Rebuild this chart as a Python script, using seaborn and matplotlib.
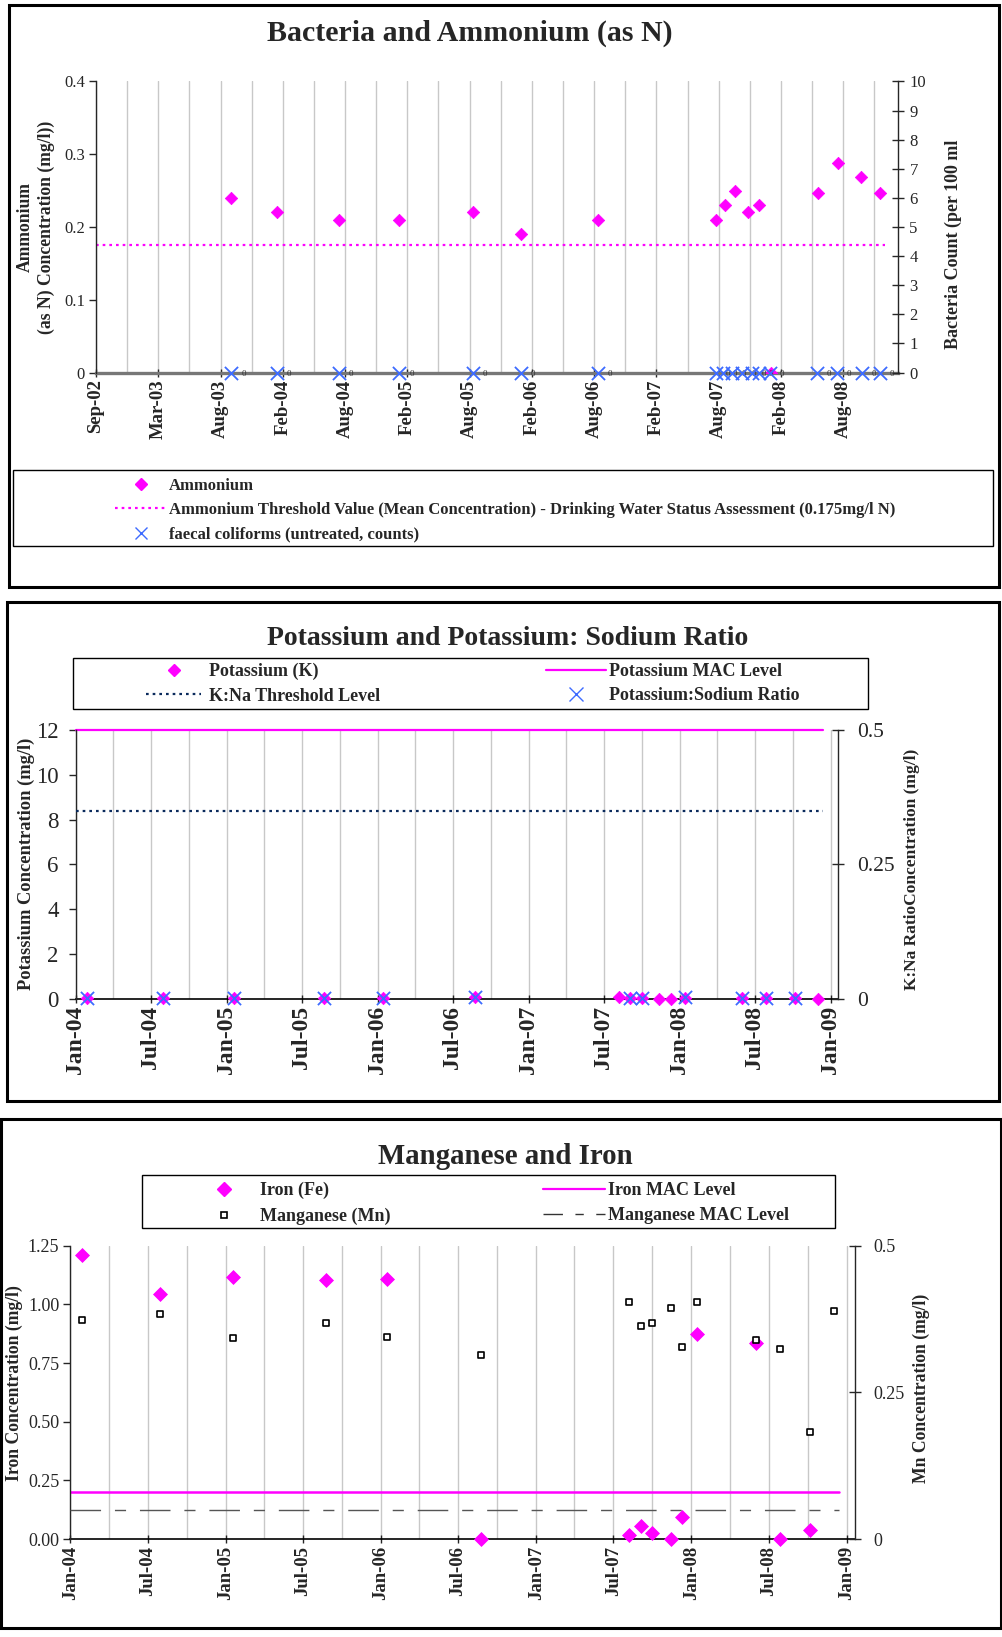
# Water quality charts: Bacteria/Ammonium, Potassium/K:Na, Manganese/Iron
import seaborn as sns
import pandas as pd
import matplotlib.pyplot as plt
import matplotlib.dates as mdates
from matplotlib.lines import Line2D
from matplotlib.patches import Rectangle
from matplotlib.ticker import FixedLocator, FuncFormatter

# ---- data: panel 1 ----
ammonium_dates = ['2003-10-02', '2004-02-11', '2004-08-12', '2005-02-03', '2005-09-07',
                  '2006-01-25', '2006-09-07', '2007-08-18', '2007-09-14', '2007-10-12',
                  '2007-11-21', '2007-12-23', '2008-01-26', '2008-06-11', '2008-08-08',
                  '2008-10-15', '2008-12-09']
ammonium = [0.24, 0.22, 0.21, 0.21, 0.22, 0.19, 0.21, 0.21, 0.23, 0.25, 0.22, 0.23, 0.0,
            0.247, 0.288, 0.269, 0.247]
bacteria_dates = ['2003-10-02', '2004-02-11', '2004-08-12', '2005-02-04', '2005-09-08',
                  '2006-01-25', '2006-09-08', '2007-08-17', '2007-09-08', '2007-10-03',
                  '2007-11-01', '2007-12-02', '2007-12-23', '2008-01-23', '2008-06-07',
                  '2008-08-05', '2008-10-17', '2008-12-09']
faecal = [0] * 18
nh4_threshold_dates = ['2002-09-01', '2008-12-24']
nh4_threshold = [0.175, 0.175]

# ---- data: panels 2 and 3 (shared sampling dates) ----
sample_dates = ['2004-01-28', '2004-07-30', '2005-01-18', '2005-08-25', '2006-01-14',
                '2006-08-25', '2007-08-08', '2007-09-04', '2007-10-01', '2007-11-13',
                '2007-12-11', '2008-01-15', '2008-06-01', '2008-07-28', '2008-10-07',
                '2008-12-01']
potassium = [0.03, 0.03, 0.03, 0.03, 0.03, 0.08, 0.1, 0.03, 0.03, 0.02, 0.02, 0.06,
             0.03, 0.03, 0.03, 0.02]
kna_ratio = [0.001, 0.001, 0.001, 0.001, 0.001, 0.004, None, 0.001, 0.001, None, None,
             0.003, 0.001, 0.001, 0.001, None]
mac_dates = ['2004-01-01', '2008-12-13']
k_mac = [12, 12]
kna_threshold = [0.35, 0.35]

iron = [1.211, 1.046, 1.117, 1.102, 1.109, 0.0, 0.017, 0.057, 0.026, 0.0, 0.095, 0.873,
        0.834, 0.0, 0.039, None]
manganese = [0.373, 0.383, 0.343, 0.368, 0.345, 0.314, 0.404, 0.363, 0.368, 0.394, 0.327,
             0.404, 0.340, 0.324, 0.183, 0.389]
fe_mac = [0.2, 0.2]
mn_mac = [0.05, 0.05]

MAGENTA = '#FF00FF'
BLUE = '#3D6BFF'
NAVY = '#0A2A5C'
GRID = '#C8C8C8'

sns.set_style("white")
plt.rcParams['font.family'] = ['Liberation Serif', 'DejaVu Serif']
plt.rcParams['axes.linewidth'] = 1.0

W, H = 1002, 1637
fig = plt.figure(figsize=(W / 100, H / 100), dpi=100)


def px_axes(left, top, right, bottom):
    return fig.add_axes([left / W, 1 - bottom / H, (right - left) / W, (bottom - top) / H])


def frame(left, top, right, bottom, lw=2.2):
    fig.patches.append(Rectangle((left / W, 1 - bottom / H), (right - left) / W,
                                 (bottom - top) / H, transform=fig.transFigure,
                                 fill=False, ec='black', lw=lw, zorder=0))


def legend_at(handles, labels, x, y, size, hl, pad, spacing):
    fig.legend(handles, labels, loc='upper left', bbox_to_anchor=(x / W, 1 - y / H),
               frameon=False, borderpad=0, borderaxespad=0, handlelength=hl,
               handletextpad=pad, labelspacing=spacing,
               prop={'weight': 'bold', 'size': size})


def style_axes(ax, ax2, spine_color='black', spine_lw=1.2):
    ax.spines['top'].set_visible(False)
    ax2.spines['top'].set_visible(False)
    ax.spines['right'].set_visible(False)
    ax2.spines['left'].set_visible(False)
    ax2.spines['bottom'].set_visible(False)
    ax.spines['bottom'].set_color(spine_color)
    ax.spines['bottom'].set_linewidth(spine_lw)
    ax.spines['bottom'].set_zorder(1)
    ax.grid(axis='x', which='both', color=GRID, lw=1.0)
    ax.grid(axis='y', visible=False)
    ax2.grid(False)
    ax.set_axisbelow(True)
    ax.tick_params(axis='y', left=True, direction='out', length=5, width=1, pad=3)
    ax.tick_params(axis='x', which='major', bottom=True, direction='inout', length=6, width=1)
    ax.tick_params(axis='x', which='minor', bottom=False)
    ax2.tick_params(axis='y', right=True, direction='inout', length=9, width=1, pad=6)


def bold_xticks(ax, size):
    ax.tick_params(axis='x', labelsize=size, rotation=90, pad=2)
    for t in ax.get_xticklabels():
        t.set_fontweight('bold')
    ax.set_xlabel('')


fmt_g = FuncFormatter(lambda v, p: f'{v:g}')

# ================= Panel 1 =================
frame(9, 5, 999, 587)
fig.text(470 / W, 1 - 33 / H, 'Bacteria and Ammonium (as N)', ha='center', va='center',
         fontsize=21.5, fontweight='bold')

ax1 = px_axes(96, 81.4, 897.6, 372.6)
ax1b = ax1.twinx()
df_nh4 = pd.DataFrame({'date': pd.to_datetime(ammonium_dates), 'value': ammonium})
df_bac = pd.DataFrame({'date': pd.to_datetime(bacteria_dates), 'value': faecal})
df_thr = pd.DataFrame({'date': pd.to_datetime(nh4_threshold_dates), 'value': nh4_threshold})

sns.lineplot(data=df_thr, x='date', y='value', ax=ax1, color=MAGENTA, lw=1.6,
             linestyle=(0, (1.2, 1.8)), legend=False)
sns.scatterplot(data=df_nh4, x='date', y='value', ax=ax1, marker='D', s=40, color=MAGENTA,
                edgecolor=MAGENTA, legend=False, zorder=3)
sns.scatterplot(data=df_bac, x='date', y='value', ax=ax1b, marker='x', s=90, color=BLUE,
                linewidth=1.3, legend=False, zorder=4, clip_on=False)
for d, v in zip(df_bac['date'], df_bac['value']):
    ax1b.annotate(f'{v:g}', (d, v), xytext=(7, -1), textcoords='offset points',
                  fontsize=6.5, va='center', ha='left', color='#333333')

start1 = pd.Timestamp('2002-09-01')
ax1.set_xlim(start1, pd.Timestamp('2009-01-30'))
ax1.set_ylim(0, 0.4)
ax1b.set_ylim(0, 10)
ax1.xaxis.set_major_locator(FixedLocator(mdates.date2num(pd.date_range(start1, periods=13, freq='182D'))))
ax1.xaxis.set_minor_locator(FixedLocator(mdates.date2num(pd.date_range(start1, periods=26, freq='91D'))))
ax1.xaxis.set_major_formatter(mdates.DateFormatter('%b-%y'))
ax1.set_yticks([0, 0.1, 0.2, 0.3, 0.4])
ax1.yaxis.set_major_formatter(fmt_g)
ax1b.set_yticks(range(0, 11))
style_axes(ax1, ax1b, spine_color='#777777', spine_lw=2.4)
ax1.tick_params(axis='y', labelsize=12)
ax1b.tick_params(axis='y', labelsize=12, pad=4)
bold_xticks(ax1, 13.5)
ax1.set_ylabel('Ammonium\n(as N) Concentration (mg/l))', fontsize=12.7, fontweight='bold',
               linespacing=1.25, multialignment='center', va='center')
ax1.yaxis.set_label_coords(-0.075, 0.5)
ax1b.set_ylabel('Bacteria Count (per 100 ml', fontsize=13, fontweight='bold', va='center')
ax1b.yaxis.set_label_coords(1.069, 0.44)

frame(12.5, 470, 993, 546, lw=1.0)
h1 = [Line2D([], [], marker='D', ms=6, color=MAGENTA, ls='none'),
      Line2D([], [], color=MAGENTA, lw=1.6, ls=(0, (1.2, 1.8))),
      Line2D([], [], marker='x', ms=9, mew=1.0, color=BLUE, ls='none')]
legend_at(h1, ['Ammonium',
               'Ammonium Threshold Value (Mean Concentration) - Drinking Water Status Assessment (0.175mg/l N)',
               'faecal coliforms (untreated, counts)'],
          115, 478, 12, 3.1, 0.12, 0.5)

# ================= Panel 2 =================
frame(7, 602, 999, 1101)
fig.text(508 / W, 1 - 639 / H, 'Potassium and Potassium: Sodium Ratio', ha='center',
         va='center', fontsize=20, fontweight='bold')

ax2 = px_axes(75.5, 730, 838, 999)
ax2b = ax2.twinx()
dates23 = pd.to_datetime(sample_dates)
df_k = pd.DataFrame({'date': dates23, 'value': potassium})
df_r = pd.DataFrame({'date': dates23, 'value': kna_ratio}).dropna()
df_kmac = pd.DataFrame({'date': pd.to_datetime(mac_dates), 'value': k_mac})
df_knat = pd.DataFrame({'date': pd.to_datetime(mac_dates), 'value': kna_threshold})

sns.lineplot(data=df_kmac, x='date', y='value', ax=ax2, color=MAGENTA, lw=1.6,
             legend=False, clip_on=False)
sns.lineplot(data=df_knat, x='date', y='value', ax=ax2b, color=NAVY, lw=1.6,
             linestyle=(0, (1.2, 1.8)), legend=False)
sns.scatterplot(data=df_k, x='date', y='value', ax=ax2, marker='D', s=40, color=MAGENTA,
                edgecolor=MAGENTA, legend=False, zorder=3, clip_on=False)
sns.scatterplot(data=df_r, x='date', y='value', ax=ax2b, marker='x', s=90, color=BLUE,
                linewidth=1.3, legend=False, zorder=4, clip_on=False)

ax2.set_xlim(pd.Timestamp('2004-01-01'), pd.Timestamp('2009-01-18'))
ax2.set_ylim(0, 12)
ax2b.set_ylim(0, 0.5)
ax2.xaxis.set_major_locator(mdates.MonthLocator(bymonth=[1, 7]))
ax2.xaxis.set_minor_locator(mdates.MonthLocator(bymonth=[1, 4, 7, 10]))
ax2.xaxis.set_major_formatter(mdates.DateFormatter('%b-%y'))
ax2.set_yticks(range(0, 13, 2))
ax2b.set_yticks([0, 0.25, 0.5])
ax2b.yaxis.set_major_formatter(fmt_g)
style_axes(ax2, ax2b)
ax2.tick_params(axis='y', labelsize=16.5, pad=7)
ax2b.tick_params(axis='y', labelsize=15.5, pad=9)
bold_xticks(ax2, 17)
ax2.set_ylabel('Potassium Concentration (mg/l)', fontsize=13.3, fontweight='bold', va='center')
ax2.yaxis.set_label_coords(-0.065, 0.503)
ax2b.set_ylabel('K:Na RatioConcentration (mg/l)', fontsize=12.5, fontweight='bold', va='center')
ax2b.yaxis.set_label_coords(1.097, 0.483)

frame(73, 657.5, 868, 708.5, lw=1.0)
legend_at([Line2D([], [], marker='D', ms=6, color=MAGENTA, ls='none'),
           Line2D([], [], color=NAVY, lw=1.6, ls=(0, (1.2, 1.8)))],
          ['Potassium (K)', 'K:Na Threshold Level'], 146, 663, 13, 3.05, 0.45, 0.4)
legend_at([Line2D([], [], color=MAGENTA, lw=1.6),
           Line2D([], [], marker='x', ms=10, mew=1.0, color=BLUE, ls='none')],
          ['Potassium MAC Level', 'Potassium:Sodium Ratio'], 546, 663, 13, 3.3, 0.2, 0.4)

# ================= Panel 3 =================
frame(1, 1119, 1001, 1628)
fig.text(505 / W, 1 - 1156 / H, 'Manganese and Iron', ha='center', va='center',
         fontsize=20.8, fontweight='bold')

ax3 = px_axes(70.4, 1245.7, 855, 1539)
ax3b = ax3.twinx()
df_fe = pd.DataFrame({'date': dates23, 'value': iron}).dropna()
df_mn = pd.DataFrame({'date': dates23, 'value': manganese})
df_femac = pd.DataFrame({'date': pd.to_datetime(mac_dates), 'value': fe_mac})
df_mnmac = pd.DataFrame({'date': pd.to_datetime(mac_dates), 'value': mn_mac})

sns.lineplot(data=df_femac, x='date', y='value', ax=ax3, color=MAGENTA, lw=1.8,
             legend=False)
sns.lineplot(data=df_mnmac, x='date', y='value', ax=ax3b, color='#555555', lw=1.0,
             linestyle=(0, (22, 10, 8, 10)), legend=False)
sns.scatterplot(data=df_fe, x='date', y='value', ax=ax3, marker='D', s=50, color=MAGENTA,
                edgecolor=MAGENTA, legend=False, zorder=3, clip_on=False)
sns.scatterplot(data=df_mn, x='date', y='value', ax=ax3b, marker='s', s=16, color='white',
                edgecolor='black', linewidth=1.2, legend=False, zorder=4)

ax3.set_xlim(pd.Timestamp('2004-01-01'), pd.Timestamp('2009-01-20'))
ax3.set_ylim(0, 1.25)
ax3b.set_ylim(0, 0.5)
ax3.xaxis.set_major_locator(mdates.MonthLocator(bymonth=[1, 7]))
ax3.xaxis.set_minor_locator(mdates.MonthLocator(bymonth=[1, 4, 7, 10]))
ax3.xaxis.set_major_formatter(mdates.DateFormatter('%b-%y'))
ax3.set_yticks([0, 0.25, 0.5, 0.75, 1.0, 1.25])
ax3.yaxis.set_major_formatter(FuncFormatter(lambda v, p: f'{v:.2f}'))
ax3b.set_yticks([0, 0.25, 0.5])
ax3b.yaxis.set_major_formatter(fmt_g)
style_axes(ax3, ax3b)
ax3.tick_params(axis='y', labelsize=13)
ax3b.tick_params(axis='y', labelsize=13, pad=9)
bold_xticks(ax3, 13.5)
ax3.set_ylabel('Iron Concentration (mg/l)', fontsize=12.7, fontweight='bold', va='center')
ax3.yaxis.set_label_coords(-0.072, 0.532)
ax3b.set_ylabel('Mn Concentration (mg/l)', fontsize=12.7, fontweight='bold', va='center')
ax3b.yaxis.set_label_coords(1.085, 0.515)

frame(142, 1175, 835, 1227.5, lw=1.0)
legend_at([Line2D([], [], marker='D', ms=7, color=MAGENTA, ls='none'),
           Line2D([], [], marker='s', ms=4, mfc='white', mec='black', mew=1.2, ls='none')],
          ['Iron (Fe)', 'Manganese (Mn)'], 196, 1182, 13, 3.05, 0.5, 0.46)
legend_at([Line2D([], [], color=MAGENTA, lw=1.6),
           Line2D([], [], color='#333333', lw=1.0, ls=(0, (14, 9, 6, 9)))],
          ['Iron MAC Level', 'Manganese MAC Level'], 543, 1182, 13, 3.45, 0.15, 0.46)

fig.savefig('out.png', dpi=100)
